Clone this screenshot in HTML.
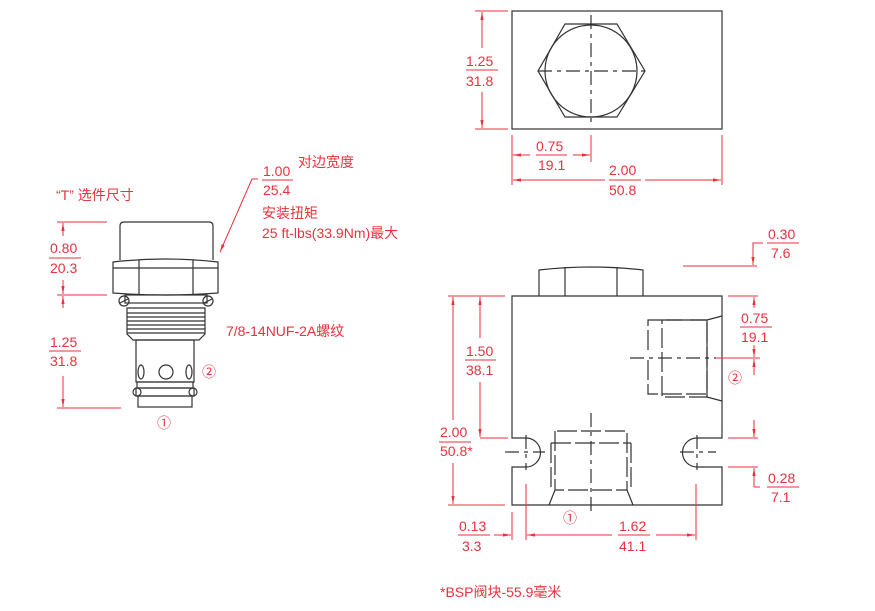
<!DOCTYPE html>
<html><head><meta charset="utf-8"><style>
html,body{margin:0;padding:0;background:#fff}
svg{display:block}
text{font-family:"Liberation Sans","Noto Sans CJK SC",sans-serif;font-size:14px;fill:#e8323c}
.k{stroke:#333;stroke-width:1.2;fill:none}
.r{stroke:#e8323c;stroke-width:1;fill:none}
.d{stroke:#333;stroke-width:1.2;fill:none;stroke-dasharray:14,5,4,5}
</style></head><body>
<svg width="875" height="611" viewBox="0 0 875 611">
<defs>
<marker id="a" viewBox="0 0 10 10" refX="10" refY="5" markerWidth="8" markerHeight="8" orient="auto-start-reverse"><path d="M0,3 L10,5 L0,7z" fill="#e8323c"/></marker>
</defs>

<!-- TOP VIEW -->
<rect x="512" y="11" width="210" height="118" class="k"/>
<path d="M565,24 L617,24 L645,71 L617,117 L565,117 L538,71 Z" class="k"/>
<circle cx="591" cy="71" r="46" class="k"/>
<line x1="538" y1="71" x2="645" y2="71" class="d"/>
<line x1="591" y1="15" x2="591" y2="125" class="d"/>
<line x1="475" y1="11" x2="508" y2="11" class="r"/>
<line x1="475" y1="129" x2="508" y2="129" class="r"/>
<line x1="482" y1="48" x2="482" y2="12" class="r" marker-end="url(#a)"/>
<line x1="482" y1="92" x2="482" y2="128" class="r" marker-end="url(#a)"/>
<text x="466" y="66">1.25</text><line x1="466" y1="70" x2="498" y2="70" class="r"/><text x="466" y="86">31.8</text>
<line x1="512" y1="135" x2="512" y2="185" class="r"/>
<line x1="591" y1="135" x2="591" y2="162" class="r"/>
<line x1="722" y1="135" x2="722" y2="185" class="r"/>
<line x1="530" y1="155" x2="513" y2="155" class="r" marker-end="url(#a)"/>
<line x1="573" y1="155" x2="590" y2="155" class="r" marker-end="url(#a)"/>
<text x="536" y="151">0.75</text><line x1="536" y1="155" x2="567" y2="155" class="r"/><text x="538" y="170">19.1</text>
<line x1="605" y1="180" x2="513" y2="180" class="r" marker-end="url(#a)"/>
<line x1="645" y1="180" x2="721" y2="180" class="r" marker-end="url(#a)"/>
<text x="609" y="175">2.00</text><line x1="609" y1="180" x2="641" y2="180" class="r"/><text x="609" y="195">50.8</text>

<!-- CARTRIDGE -->
<text x="56" y="200">“T” 选件尺寸</text>
<path d="M120,260 L120,226 Q120,222 124,222 L209,222 Q213,222 213,226 L213,260" class="k"/>
<path d="M113,262 Q165,256 218,262 L218,293 Q165,297 113,293 Z" class="k"/>
<line x1="113" y1="268" x2="218" y2="268" class="k"/>
<line x1="139" y1="260" x2="139" y2="295" class="k"/>
<line x1="193" y1="260" x2="193" y2="295" class="k"/>
<rect x="125" y="295" width="82" height="8" class="k"/>
<circle cx="124" cy="301" r="5" class="k"/><circle cx="208" cy="301" r="5" class="k"/>
<line x1="120" y1="303" x2="128" y2="299" class="k"/><line x1="204" y1="303" x2="212" y2="299" class="k"/>
<path d="M127,308 L205,308 L205,334 L199,340 L133,340 L127,334 Z" class="k"/>
<g class="k"><line x1="127" y1="313" x2="205" y2="313"/><line x1="127" y1="317" x2="205" y2="317"/><line x1="127" y1="321" x2="205" y2="321"/><line x1="127" y1="325" x2="205" y2="325"/><line x1="127" y1="329" x2="205" y2="329"/><line x1="127" y1="333" x2="205" y2="333"/></g>
<rect x="136" y="340" width="58" height="42" class="k"/>
<ellipse cx="141" cy="372" rx="3" ry="7" class="k"/><ellipse cx="189" cy="372" rx="3" ry="7" class="k"/>
<circle cx="166" cy="372" r="7" class="k"/>
<rect x="137" y="382" width="56" height="6" class="k"/>
<rect x="136" y="388" width="58" height="8" class="k"/>
<circle cx="137" cy="392" r="4" class="k"/><circle cx="193" cy="392" r="4" class="k"/>
<rect x="138" y="396" width="54" height="11" class="k"/>
<text x="202" y="377" font-size="15">②</text>
<text x="157" y="428" font-size="15">①</text>
<line x1="57" y1="222" x2="107" y2="222" class="r"/>
<line x1="57" y1="295" x2="107" y2="295" class="r"/>
<line x1="57" y1="408" x2="121" y2="408" class="r"/>
<line x1="63" y1="236" x2="63" y2="223" class="r" marker-end="url(#a)"/>
<line x1="63" y1="280" x2="63" y2="294" class="r" marker-end="url(#a)"/>
<line x1="63" y1="308" x2="63" y2="296" class="r" marker-end="url(#a)"/>
<line x1="63" y1="376" x2="63" y2="407" class="r" marker-end="url(#a)"/>
<text x="50" y="253">0.80</text><line x1="49" y1="258" x2="81" y2="258" class="r"/><text x="50" y="273">20.3</text>
<text x="50" y="347">1.25</text><line x1="49" y1="351" x2="81" y2="351" class="r"/><text x="50" y="366">31.8</text>
<polyline points="258,179 252,179 220,252" class="r" marker-end="url(#a)"/>
<text x="263" y="176">1.00</text><line x1="262" y1="180" x2="293" y2="180" class="r"/><text x="263" y="195">25.4</text>
<text x="298" y="167">对边宽度</text>
<text x="262" y="218">安装扭矩</text>
<text x="262" y="238">25 ft-lbs(33.9Nm)最大</text>
<text x="226" y="336">7/8-14NUF-2A螺纹</text>

<!-- BOTTOM VIEW BLOCK -->
<path d="M539,296 L539,270 Q591,264 643,270 L643,296" class="k"/>
<line x1="565" y1="267" x2="565" y2="296" class="k"/><line x1="617" y1="267" x2="617" y2="296" class="k"/>
<path d="M512,296 L722,296 L722,438 L697,438 A14.5,14.5 0 0 0 697,467 L722,467 L722,505 L512,505 L512,467 L526,467 A14.5,14.5 0 0 0 526,438 L512,438 Z" class="k"/>
<line x1="505" y1="452" x2="545" y2="452" class="d" stroke-dasharray="6,4"/>
<line x1="526" y1="435" x2="526" y2="470" class="d" stroke-dasharray="6,4"/>
<line x1="680" y1="452" x2="716" y2="452" class="d" stroke-dasharray="6,4"/>
<line x1="697" y1="435" x2="697" y2="470" class="d" stroke-dasharray="6,4"/>
<g class="k" stroke-dasharray="20,4">
<path d="M648,350 L648,320 L707,320"/>
<path d="M648,360 L648,394 L707,394"/>
<path d="M662,320 L707,320 L707,397 L662,397 Z"/>
</g>
<path d="M707,320 L722,316 M707,397 L722,401 M707,320 L707,397" class="k"/>
<line x1="630" y1="358" x2="716" y2="358" class="d"/>
<g class="k" stroke-dasharray="20,4">
<path d="M555,431 L555,490 L627,490 L627,431 Z"/>
<path d="M551,443 L551,490 M631,443 L631,490 M551,443 L631,443"/>
</g>
<path d="M555,490 L549,505 M627,490 L633,505" class="k"/>
<line x1="591" y1="413" x2="591" y2="515" class="d"/>
<text x="728" y="383" font-size="15">②</text>
<text x="563" y="523" font-size="15">①</text>
<line x1="448" y1="296" x2="505" y2="296" class="r"/>
<line x1="448" y1="505" x2="505" y2="505" class="r"/>
<line x1="480" y1="438" x2="508" y2="438" class="r"/>
<line x1="453" y1="420" x2="453" y2="297" class="r" marker-end="url(#a)"/>
<line x1="453" y1="463" x2="453" y2="504" class="r" marker-end="url(#a)"/>
<line x1="480" y1="338" x2="480" y2="297" class="r" marker-end="url(#a)"/>
<line x1="480" y1="382" x2="480" y2="437" class="r" marker-end="url(#a)"/>
<text x="466" y="356">1.50</text><line x1="465" y1="360" x2="496" y2="360" class="r"/><text x="466" y="375">38.1</text>
<text x="440" y="437">2.00</text><line x1="439" y1="442" x2="471" y2="442" class="r"/><text x="440" y="456">50.8*</text>
<line x1="512" y1="512" x2="512" y2="540" class="r"/>
<line x1="526" y1="484" x2="526" y2="540" class="r"/>
<line x1="696" y1="484" x2="696" y2="540" class="r"/>
<line x1="494" y1="535" x2="511" y2="535" class="r" marker-end="url(#a)"/>
<text x="459" y="531">0.13</text><line x1="458" y1="535" x2="490" y2="535" class="r"/><text x="462" y="551">3.3</text>
<line x1="612" y1="535" x2="527" y2="535" class="r" marker-end="url(#a)"/>
<line x1="656" y1="535" x2="695" y2="535" class="r" marker-end="url(#a)"/>
<text x="619" y="531">1.62</text><line x1="618" y1="535" x2="650" y2="535" class="r"/><text x="619" y="551">41.1</text>
<line x1="683" y1="266" x2="757" y2="266" class="r"/>
<polyline points="763,243 753,243 753,265" class="r" marker-end="url(#a)"/>
<text x="768" y="239">0.30</text><line x1="767" y1="243" x2="799" y2="243" class="r"/><text x="771" y="258">7.6</text>
<line x1="728" y1="296" x2="758" y2="296" class="r"/>
<line x1="716" y1="358" x2="760" y2="358" class="r"/>
<line x1="728" y1="438" x2="758" y2="438" class="r"/>
<line x1="728" y1="467" x2="758" y2="467" class="r"/>
<line x1="754" y1="308" x2="754" y2="297" class="r" marker-end="url(#a)"/>
<line x1="754" y1="345" x2="754" y2="357" class="r" marker-end="url(#a)"/>
<line x1="754" y1="375" x2="754" y2="359" class="r" marker-end="url(#a)"/>
<line x1="754" y1="420" x2="754" y2="437" class="r" marker-end="url(#a)"/>
<polyline points="754,487 754,468" class="r" marker-end="url(#a)"/>
<line x1="754" y1="487" x2="760" y2="487" class="r"/>
<text x="741" y="323">0.75</text><line x1="740" y1="327" x2="772" y2="327" class="r"/><text x="741" y="342">19.1</text>
<text x="768" y="483">0.28</text><line x1="767" y1="487" x2="799" y2="487" class="r"/><text x="771" y="502">7.1</text>
<text x="440" y="597">*BSP阀块-55.9毫米</text>
</svg>
</body></html>
